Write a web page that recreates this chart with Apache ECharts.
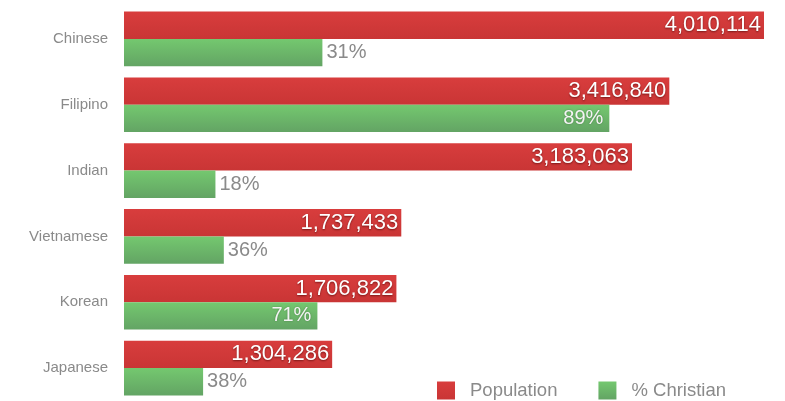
<!DOCTYPE html>
<html>
<head>
<meta charset="utf-8">
<script src="https://cdn.jsdelivr.net/npm/echarts@6/dist/echarts.min.js"></script>
<style>html,body{margin:0;padding:0;background:#fff}#c{width:785px;height:401px}</style>
</head>
<body>
<div id="c"></div>
<script>
const categories = ['Chinese', 'Filipino', 'Indian', 'Vietnamese', 'Korean', 'Japanese'];
const population = [4010114, 3416840, 3183063, 1737433, 1706822, 1304286];
const pctChristian = [31, 89, 18, 36, 71, 38];

const chart = echarts.init(document.getElementById('c'));
const font = '"Liberation Sans", Helvetica, Arial, sans-serif';
const red = new echarts.graphic.LinearGradient(0, 0, 0, 1, [
  {offset: 0, color: '#d83d3d'}, {offset: 1, color: '#c93535'}]);
const green = new echarts.graphic.LinearGradient(0, 0, 0, 1, [
  {offset: 0, color: '#74c86f'}, {offset: 1, color: '#63a464'}]);

const christianData = population.map((p, i) => {
  const inside = pctChristian[i] > 50;
  return {
    value: p * pctChristian[i] / 100,
    label: inside ? {position: 'insideRight', color: '#f4f4f4', distance: 6,
      textShadowColor: 'rgba(0,0,0,0.3)', textShadowBlur: 2}
      : {position: 'right', color: '#8a8a8a', distance: 4}
  };
});

chart.setOption({
  animation: false,
  grid: {left: 124, right: 21, top: 6, bottom: -2},
  xAxis: {type: 'value', min: 0, max: population[0], show: false},
  yAxis: {
    type: 'category', data: categories, inverse: true,
    axisLine: {show: false}, axisTick: {show: false},
    axisLabel: {color: '#8a8a8a', fontSize: 15, fontFamily: font, margin: 16}
  },
  legend: {
    left: 432, top: 376, itemWidth: 18, itemHeight: 18, itemGap: 41,
    icon: 'rect',
    textStyle: {color: '#8a8a8a', fontSize: 18.5, fontFamily: font, padding: [0, 0, 0, 10]},
    data: ['Population', '% Christian']
  },
  series: [
    {
      name: 'Population', type: 'bar', data: population,
      itemStyle: {color: red},
      barGap: '0%', barCategoryGap: '17%',
      label: {show: true, position: 'insideRight', distance: 3, color: '#fff',
        fontSize: 22, fontFamily: font,
        textShadowColor: 'rgba(60,0,0,0.6)', textShadowBlur: 2, textShadowOffsetY: 1,
        formatter: p => p.value.toLocaleString('en-US')}
    },
    {
      name: '% Christian', type: 'bar', data: christianData,
      itemStyle: {color: green},
      barGap: '0%', barCategoryGap: '17%',
      label: {show: true, fontSize: 20, fontFamily: font,
        formatter: p => pctChristian[p.dataIndex] + '%'}
    }
  ]
});
</script>
</body>
</html>
